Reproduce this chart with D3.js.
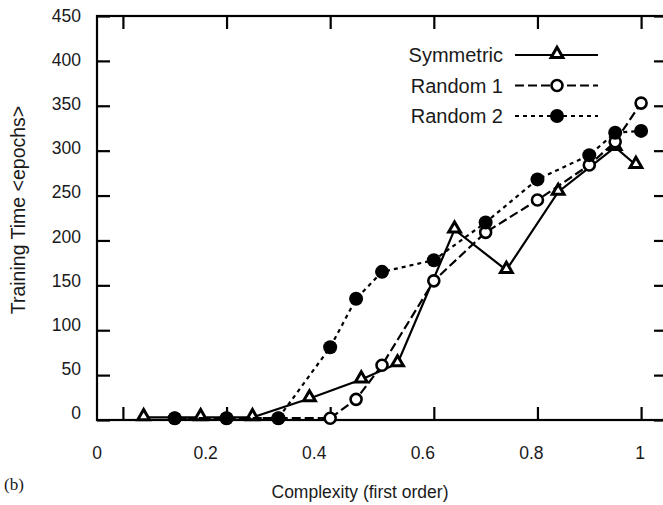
<!DOCTYPE html>
<html>
<head>
<meta charset="utf-8">
<script src="https://cdn.jsdelivr.net/npm/d3@7"></script>
<style>
  body { margin: 0; background: #fff; }
  svg { display: block; }
  text { font-family: "Liberation Sans", Arial, Helvetica, sans-serif; fill: #1a1a1a; }
</style>
</head>
<body>
<div class="vis"></div>
<script>
// data
const seriesNames = ["Symmetric", "Random 1", "Random 2"];
const symmetricX = [0.04, 0.15, 0.25, 0.36, 0.46, 0.53, 0.64, 0.74, 0.84, 0.95, 0.99];
const symmetricY = [3, 3, 3, 24, 45, 63, 212, 167, 254, 304, 284];
const randomX = [0.1, 0.2, 0.3, 0.4, 0.45, 0.5, 0.6, 0.7, 0.8, 0.9, 0.95, 1.0];
const random1Y = [2, 2, 2, 2, 23, 61, 155, 209, 245, 284, 310, 353];
const random2Y = [2, 2, 2, 81, 135, 165, 178, 220, 268, 295, 320, 322];
const xTicks = [0, 0.2, 0.4, 0.6, 0.8, 1];
const yTicks = [0, 50, 100, 150, 200, 250, 300, 350, 400, 450];

const W = 663, H = 505;
const margin = { top: 16, right: -4, bottom: 85, left: 97 };

const svg = d3.select(".vis")
  .append("svg")
  .attr("width", W)
  .attr("height", H);

// plot scales (frame runs from -0.05 to 1.05)
const x = d3.scaleLinear().domain([-0.05, 1.05]).range([margin.left, W - margin.right]);
const y = d3.scaleLinear().domain([0, 450]).range([H - margin.bottom, margin.top]);
// the printed tick numbers sit a bit off the tick marks in the original
const xLab = d3.scaleLinear().domain([0, 1]).range([97, 640]);
const yLab = d3.scaleLinear().domain([0, 450]).range([413, 16]);

// inward ticks on all four sides
const tickLen = 13;
svg.append("g")
  .attr("transform", "translate(0," + y(0) + ")")
  .call(d3.axisTop(x).tickValues(xTicks).tickSize(tickLen).tickFormat(""));
svg.append("g")
  .attr("transform", "translate(0," + y(450) + ")")
  .call(d3.axisBottom(x).tickValues(xTicks).tickSize(tickLen).tickFormat(""));
svg.append("g")
  .attr("transform", "translate(" + x(-0.05) + ",0)")
  .call(d3.axisRight(y).tickValues(yTicks).tickSize(tickLen).tickFormat(""));
svg.append("g")
  .attr("transform", "translate(" + x(1.05) + ",0)")
  .call(d3.axisLeft(y).tickValues(yTicks).tickSize(tickLen).tickFormat(""));
svg.selectAll(".domain").remove();
svg.selectAll(".tick line").attr("stroke", "#000").attr("stroke-width", 2.2);

// frame
svg.append("rect")
  .attr("x", x(-0.05))
  .attr("y", y(450))
  .attr("width", x(1.05) - x(-0.05))
  .attr("height", y(0) - y(450))
  .attr("fill", "none")
  .attr("stroke", "#000")
  .attr("stroke-width", 2.2);

// tick numbers
svg.append("g")
  .selectAll("text")
  .data(xTicks)
  .enter().append("text")
  .attr("x", d => xLab(d))
  .attr("y", 459)
  .attr("text-anchor", "middle")
  .style("font-size", "17.5px")
  .text(d => d3.format("")(d));

svg.append("g")
  .selectAll("text")
  .data(yTicks)
  .enter().append("text")
  .attr("x", 81)
  .attr("y", d => yLab(d) + 6)
  .attr("text-anchor", "end")
  .style("font-size", "17.5px")
  .text(d => d);

// axis titles
svg.append("text")
  .attr("x", 360)
  .attr("y", 498)
  .attr("text-anchor", "middle")
  .style("font-size", "17.5px")
  .text("Complexity (first order)");

svg.append("text")
  .attr("transform", "translate(25,210) rotate(-90)")
  .attr("text-anchor", "middle")
  .style("font-size", "19.5px")
  .text("Training Time <epochs>");

svg.append("text")
  .attr("x", 4)
  .attr("y", 490)
  .style("font-family", "'Liberation Serif', 'Times New Roman', serif")
  .style("font-size", "17px")
  .text("(b)");

// series
const series = [
  { name: seriesNames[0], xs: symmetricX, ys: symmetricY, dash: null, marker: "triangle" },
  { name: seriesNames[1], xs: randomX, ys: random1Y, dash: "9,4", marker: "open" },
  { name: seriesNames[2], xs: randomX, ys: random2Y, dash: "4,4", marker: "filled" }
];

const line = d3.line()
  .x(d => x(d[0]))
  .y(d => y(d[1]));

function drawMarker(g, kind, cx, cy) {
  if (kind === "triangle") {
    g.append("path")
      .attr("d", d3.symbol().type(d3.symbolTriangle).size(60)())
      .attr("transform", "translate(" + cx + "," + (cy - 1) + ")")
      .attr("fill", "#fff")
      .attr("stroke", "#000")
      .attr("stroke-width", 3);
  } else if (kind === "open") {
    g.append("circle")
      .attr("cx", cx).attr("cy", cy).attr("r", 5.5)
      .attr("fill", "#fff")
      .attr("stroke", "#000")
      .attr("stroke-width", 2.6);
  } else {
    g.append("circle")
      .attr("cx", cx).attr("cy", cy).attr("r", 7)
      .attr("fill", "#000");
  }
}

series.forEach(s => {
  const pts = s.xs.map((v, i) => [v, s.ys[i]]);
  const g = svg.append("g");
  g.append("path")
    .datum(pts)
    .attr("fill", "none")
    .attr("stroke", "#000")
    .attr("stroke-width", 2.2)
    .attr("stroke-dasharray", s.dash)
    .attr("d", line);
  pts.forEach(p => drawMarker(g, s.marker, x(p[0]), y(p[1])));
});

// legend
const legend = svg.append("g");
series.forEach((s, i) => {
  const ly = 55 + i * 30.5;
  legend.append("text")
    .attr("x", 503)
    .attr("y", ly + 7)
    .attr("text-anchor", "end")
    .style("font-size", "20px")
    .text(s.name);
  legend.append("line")
    .attr("x1", 515).attr("x2", 598)
    .attr("y1", ly).attr("y2", ly)
    .attr("stroke", "#000")
    .attr("stroke-width", 2.2)
    .attr("stroke-dasharray", s.dash);
  drawMarker(legend, s.marker, 557, ly);
});
</script>
</body>
</html>
